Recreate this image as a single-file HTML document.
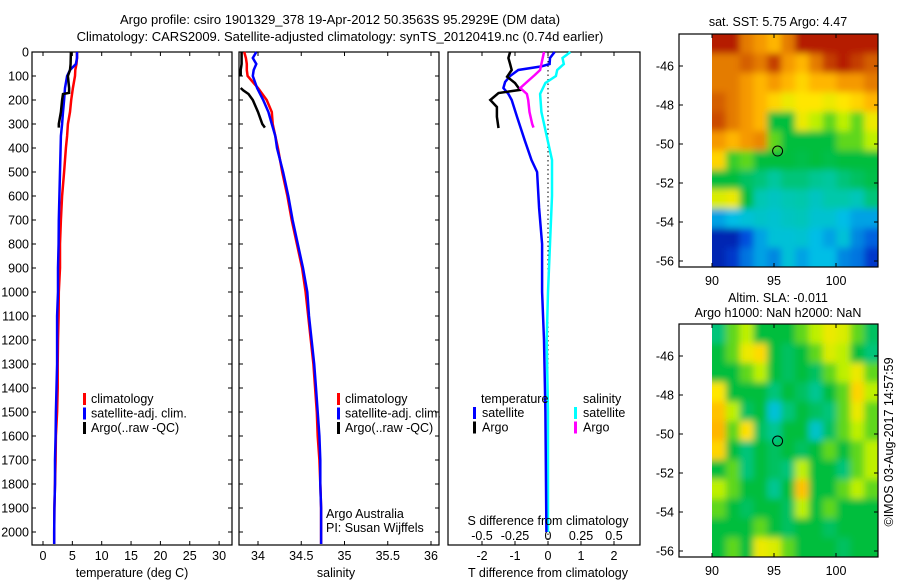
<!DOCTYPE html>
<html><head><meta charset="utf-8"><style>
body{margin:0;background:#fff;}
svg{display:block;font-family:"Liberation Sans",sans-serif;}
text{fill:#000;}
</style></head><body>
<svg id="fig" width="900" height="580" viewBox="0 0 900 580">
<defs>
<filter id="blur" filterUnits="userSpaceOnUse" x="650" y="0" width="250" height="580"><feGaussianBlur stdDeviation="3.5"/></filter>
<clipPath id="clip1"><rect x="712" y="34" width="166" height="233"/></clipPath>
<clipPath id="clip2"><rect x="712" y="324" width="166" height="233"/></clipPath>
</defs>
<text x="340" y="24" font-size="13" text-anchor="middle">Argo profile: csiro 1901329_378 19-Apr-2012 50.3563S 95.2929E (DM data)</text>
<text x="340" y="41" font-size="13" text-anchor="middle">Climatology: CARS2009. Satellite-adjusted climatology: synTS_20120419.nc (0.74d earlier)</text>
<g id="g"></g>
</svg>
<script>
// ---- depth grid (m) ----
const depths = [0,25,50,75,100,150,200,250,300,350,400,500,600,700,800,900,1000,1100,1200,1300,1400,1500,1600,1700,1800,1900,2000,2050];
// temperature (deg C)
const tempClim = [5.8,5.8,5.7,5.5,5.45,5.1,4.8,4.6,4.25,4.1,3.9,3.6,3.25,3.05,2.9,2.9,2.7,2.65,2.55,2.5,2.5,2.4,2.2,2.15,2.05,1.95,1.9,1.9];
const tempSat = [5.8,5.8,5.6,4.6,4.1,3.75,3.6,3.4,3.25,3.05,3.0,2.9,2.8,2.7,2.65,2.55,2.55,2.4,2.4,2.4,2.3,2.2,2.15,2.05,2.05,1.95,1.9,1.9];
const argoTDepths = [0,50,75,100,150,170,175,200,250,300,315];
const argoTemp = [4.75,4.7,4.6,4.25,4.45,4.45,3.4,3.25,3.05,2.7,2.7];
// salinity
const salClim = [33.84,33.86,33.87,33.87,33.88,34.0,34.10,34.16,34.17,34.20,34.23,34.28,34.34,34.39,34.45,34.51,34.55,34.58,34.61,34.64,34.66,34.68,34.69,34.71,34.72,34.73,34.73,34.73];
const salSat = [33.98,33.94,33.98,33.95,33.94,33.99,34.06,34.12,34.16,34.20,34.22,34.29,34.35,34.40,34.46,34.52,34.57,34.59,34.62,34.65,34.67,34.69,34.71,34.72,34.72,34.73,34.73,34.73];
const argoSDepths1 = [0,25,50,75,100];
const argoSal1 = [33.81,33.81,33.81,33.80,33.80];
const argoSDepths2 = [150,160,175,200,250,300,315];
const argoSal2 = [33.80,33.83,33.89,33.94,34.0,34.05,34.08];
// differences
const dTDepths = [0,25,50,60,75,100,125,150,175,200,270,370,450,500,650,800,1000,1200,1500,2000];
const dTSat = [0.2,0.06,0.05,-0.2,-0.9,-1.15,-1.3,-1.35,-1.2,-1.1,-0.94,-0.7,-0.5,-0.33,-0.27,-0.18,-0.18,-0.12,-0.08,-0.05];
const dSDepths = [0,25,50,75,100,129,175,250,350,450,600,800,1000,1200,1500,2000];
const dSSat = [0.17,0.11,0.12,0.07,0.06,-0.02,-0.06,-0.05,-0.01,0.03,0.03,0.015,0.0,-0.01,0.0,0.0];
const dTArgoDepths = [0,25,50,75,103,129,158,171,200,229,270,317];
const dTArgo = [-1.15,-1.2,-1.15,-1.1,-1.24,-1.0,-0.85,-1.5,-1.75,-1.55,-1.55,-1.5];
const dSArgoDepths = [0,25,50,75,96,125,150,175,200,250,300,315];
const dSArgo = [-0.03,-0.04,-0.05,-0.06,-0.1,-0.16,-0.21,-0.16,-0.15,-0.14,-0.12,-0.11];
// ticks
const depthTicks = [0,100,200,300,400,500,600,700,800,900,1000,1100,1200,1300,1400,1500,1600,1700,1800,1900,2000];
const tempTicks = [0,5,10,15,20,25,30];
const salTicks = [34,34.5,35,35.5,36];
const dTTicks = [-2,-1,0,1,2];
const dSTicks = [-0.5,-0.25,0,0.25,0.5];
const latTicks = [-46,-48,-50,-52,-54,-56];
const lonTicks = [90,95,100];
// maps (colormap index 0..1), rows north->south, cols west->east
const sstGrid = [
[0.95,0.95,0.8,0.75,0.7,0.8,0.95,0.95,0.95,0.95,0.95,0.95],
[0.8,0.8,0.85,0.8,0.9,0.75,0.7,0.8,0.9,0.95,0.9,0.85],
[0.8,0.8,0.75,0.7,0.75,0.7,0.65,0.7,0.7,0.75,0.75,0.8],
[0.85,0.8,0.75,0.7,0.65,0.6,0.62,0.62,0.6,0.62,0.65,0.7],
[0.88,0.8,0.75,0.7,0.45,0.45,0.6,0.55,0.5,0.55,0.5,0.6],
[0.75,0.7,0.75,0.78,0.5,0.45,0.45,0.45,0.45,0.5,0.5,0.55],
[0.65,0.48,0.5,0.45,0.45,0.45,0.44,0.45,0.44,0.45,0.45,0.45],
[0.45,0.45,0.42,0.4,0.37,0.4,0.4,0.38,0.37,0.4,0.42,0.44],
[0.58,0.6,0.45,0.35,0.33,0.35,0.36,0.33,0.36,0.36,0.34,0.4],
[0.25,0.28,0.3,0.32,0.31,0.33,0.34,0.31,0.31,0.28,0.25,0.25],
[0.08,0.08,0.16,0.25,0.3,0.3,0.31,0.28,0.25,0.3,0.22,0.18],
[0.08,0.12,0.2,0.25,0.22,0.3,0.25,0.28,0.28,0.22,0.2,0.12]];
const slaGrid = [
[0.4,0.5,0.55,0.45,0.45,0.45,0.5,0.55,0.6,0.58,0.5,0.42],
[0.45,0.5,0.6,0.64,0.45,0.42,0.45,0.5,0.58,0.55,0.45,0.4],
[0.45,0.45,0.5,0.55,0.45,0.42,0.45,0.42,0.5,0.55,0.6,0.5],
[0.62,0.45,0.45,0.45,0.4,0.45,0.42,0.38,0.45,0.5,0.65,0.55],
[0.68,0.55,0.42,0.45,0.3,0.4,0.45,0.42,0.4,0.5,0.6,0.5],
[0.7,0.5,0.63,0.42,0.38,0.45,0.45,0.32,0.42,0.5,0.55,0.5],
[0.65,0.45,0.4,0.45,0.42,0.45,0.42,0.45,0.5,0.45,0.5,0.55],
[0.45,0.5,0.4,0.45,0.42,0.4,0.55,0.45,0.45,0.4,0.5,0.55],
[0.55,0.5,0.45,0.45,0.38,0.45,0.68,0.45,0.45,0.5,0.55,0.5],
[0.5,0.45,0.42,0.45,0.45,0.42,0.55,0.45,0.5,0.45,0.45,0.45],
[0.45,0.45,0.45,0.5,0.45,0.42,0.45,0.45,0.42,0.45,0.45,0.45],
[0.45,0.5,0.45,0.6,0.58,0.5,0.45,0.45,0.45,0.42,0.45,0.45]];
const argoLon = 95.29, argoLat = -50.36;

const NS='http://www.w3.org/2000/svg';
const root=document.getElementById('g');
function el(tag,attrs,parent){const e=document.createElementNS(NS,tag);for(const k in attrs)e.setAttribute(k,attrs[k]);(parent||root).appendChild(e);return e;}
function txt(x,y,s,size,anchor,parent){const t=el('text',{x:x,y:y,'font-size':size,'text-anchor':anchor||'middle'},parent);t.textContent=s;return t;}

const TOP=52,BOT=545;
const yD=d=>TOP+d*0.24;
const xT=v=>43+5.87*v;
const xS=v=>258+86.5*(v-34);
const xdT=v=>548+33*v;
const xdS=v=>548+132*v;

function line(xs,ds,sx,color,w,name,parent){
  const pts=xs.map((v,i)=>sx(v).toFixed(1)+','+yD(ds[i]).toFixed(1)).join(' ');
  const p=el('polyline',{points:pts,fill:'none',stroke:color,'stroke-width':w,'stroke-linejoin':'miter'},parent);
  
  
  return p;
}
function panel(x0,x1,name){
  const g=el('g',{});
  
  
  el('rect',{x:x0,y:TOP,width:x1-x0,height:BOT-TOP,fill:'none',stroke:'#000','stroke-width':1.2},g);
  return g;
}

// Panel 1
const p1=panel(32,232,'temperature-panel');
depthTicks.forEach(d=>{
  el('line',{x1:32,x2:36,y1:yD(d),y2:yD(d),stroke:'#000'},p1);
  el('line',{x1:228,x2:232,y1:yD(d),y2:yD(d),stroke:'#000'},p1);
  const t=txt(29,yD(d)+4.5,String(d),12.5,'end',p1);
  
  
});
tempTicks.forEach(v=>{
  el('line',{x1:xT(v),x2:xT(v),y1:TOP,y2:TOP+4,stroke:'#000'},p1);
  el('line',{x1:xT(v),x2:xT(v),y1:BOT-4,y2:BOT,stroke:'#000'},p1);
  const t=txt(xT(v),560,String(v),12.5,'middle',p1);
  
  
});
line(tempClim,depths,xT,'#f00',2.5,'temp-climatology-line',p1);
line(tempSat,depths,xT,'#00f',2.5,'temp-satellite-line',p1);
line(argoTemp,argoTDepths,xT,'#000',2.5,'temp-argo-line',p1);
txt(132,577,'temperature (deg C)',12.5,'middle',p1);

function legend(x,y,items,parent,name){
  const g=el('g',{},parent);
  
  
  items.forEach((it,i)=>{
    el('rect',{x:x,y:y+i*14.5-10,width:3,height:12,fill:it[0]},g);
    txt(x+8,y+i*14.5,it[1],12.5,'start',g);
  });
}
const legItems=[['#f00','climatology'],['#00f','satellite-adj. clim.'],['#000','Argo(..raw -QC)']];
legend(83,403,legItems,p1,'temperature-legend');

// Panel 2
const p2=panel(239,439,'salinity-panel');
depthTicks.forEach(d=>{
  el('line',{x1:239,x2:243,y1:yD(d),y2:yD(d),stroke:'#000'},p2);
  el('line',{x1:435,x2:439,y1:yD(d),y2:yD(d),stroke:'#000'},p2);
});
salTicks.forEach(v=>{
  el('line',{x1:xS(v),x2:xS(v),y1:TOP,y2:TOP+4,stroke:'#000'},p2);
  el('line',{x1:xS(v),x2:xS(v),y1:BOT-4,y2:BOT,stroke:'#000'},p2);
  const t=txt(xS(v),560,String(v),12.5,'middle',p2);
  
  
});
line(salClim,depths,xS,'#f00',2.5,'sal-climatology-line',p2);
line(salSat,depths,xS,'#00f',2.5,'sal-satellite-line',p2);
line(argoSal1,argoSDepths1,xS,'#000',2.5,'sal-argo-line-upper',p2);
line(argoSal2,argoSDepths2,xS,'#000',2.5,'sal-argo-line-lower',p2);
txt(336,577,'salinity',12.5,'middle',p2);
legend(337,403,legItems,p2,'salinity-legend');
txt(326,518,'Argo Australia',12.5,'start',p2);
txt(326,532,'PI: Susan Wijffels',12.5,'start',p2);

// Panel 3
const p3=panel(448,640,'difference-panel');
el('line',{x1:548,x2:548,y1:TOP,y2:BOT,stroke:'#000','stroke-dasharray':'1.5,3','stroke-width':1},p3);
dTTicks.forEach(v=>{
  el('line',{x1:xdT(v),x2:xdT(v),y1:TOP,y2:TOP+4,stroke:'#000'},p3);
  const t=txt(xdT(v),560,String(v),12.5,'middle',p3);
  
  
});
dSTicks.forEach(v=>{
  el('line',{x1:xdS(v),x2:xdS(v),y1:BOT-4,y2:BOT,stroke:'#000'},p3);
  const t=txt(xdS(v),540,String(v),12.5,'middle',p3);
  
  
});
line(dSSat,dSDepths,xdS,'#0ff',2.5,'sal-diff-satellite-line',p3);
line(dTSat,dTDepths,xdT,'#00f',2.5,'temp-diff-satellite-line',p3);
line(dTArgo,dTArgoDepths,xdT,'#000',2.5,'temp-diff-argo-line',p3);
line(dSArgo,dSArgoDepths,xdS,'#f0f',2.5,'sal-diff-argo-line',p3);
txt(548,525,'S difference from climatology',12.5,'middle',p3);
txt(548,577,'T difference from climatology',12.5,'middle',p3);
const lg3=el('g',{},p3);


txt(481,403,'temperature',12.5,'start',lg3);
txt(583,403,'salinity',12.5,'start',lg3);
[['#00f','satellite',473],['#000','Argo',473],['#0ff','satellite',574],['#f0f','Argo',574]].forEach((it,i)=>{
  const yy=417+(i%2)*14.5;
  el('rect',{x:it[2],y:yy-10,width:3,height:12,fill:it[0]},lg3);
  txt(it[2]+9,yy,it[1],12.5,'start',lg3);
});

// Maps
const stops=[[0,[0,0,130]],[0.15,[0,70,220]],[0.28,[0,190,230]],[0.36,[0,200,170]],[0.45,[0,190,60]],[0.55,[190,240,0]],[0.62,[255,230,0]],[0.72,[255,170,0]],[0.84,[215,100,0]],[1,[165,0,0]]];
function cmap(v){
  for(let i=1;i<stops.length;i++){if(v<=stops[i][0]){const a=stops[i-1],b=stops[i];const t=(v-a[0])/(b[0]-a[0]);const c=a[1].map((x,k)=>Math.round(x+(b[1][k]-x)*t));return 'rgb('+c.join(',')+')';}}
  return 'rgb(165,0,0)';
}
function map(y0,grid,clip,name,y46){
  const g=el('g',{});
  
  
  const lonX=l=>712+(l-90)*12.4;
  const latY=l=>y46+(-46-l)*19.5;
  const inner=el('g',{'clip-path':'url(#'+clip+')'},g);
  const bg=el('g',{filter:'url(#blur)'},inner);
  const rows=grid.length, cols=grid[0].length, cw=166/cols, rh=233/rows;
  grid.forEach((row,r)=>row.forEach((v,c)=>{
    let x=712+c*cw,y=y0+r*rh,w=cw+0.6,h=rh+0.6;
    if(c===0){x-=12;w+=12;} if(c===cols-1){w+=12;}
    if(r===0){y-=12;h+=12;} if(r===rows-1){h+=12;}
    const cell=el('rect',{x:x,y:y,width:w,height:h,fill:cmap(v)},bg);
    
    
  }));
  el('rect',{x:679,y:y0,width:199,height:233,fill:'none',stroke:'#000','stroke-width':1.2},g);
  latTicks.forEach(l=>{
    el('line',{x1:679,x2:683,y1:latY(l),y2:latY(l),stroke:'#000'},g);
    el('line',{x1:874,x2:878,y1:latY(l),y2:latY(l),stroke:'#000'},g);
    const t=txt(674,latY(l)+4.5,String(l),12.5,'end',g);
    
    
  });
  lonTicks.forEach(l=>{
    el('line',{x1:lonX(l),x2:lonX(l),y1:y0,y2:y0+4,stroke:'#000'},g);
    el('line',{x1:lonX(l),x2:lonX(l),y1:y0+229,y2:y0+233,stroke:'#000'},g);
    const t=txt(lonX(l),y0+251,String(l),12.5,'middle',g);
    
    
  });
  const c=el('circle',{cx:lonX(argoLon),cy:latY(argoLat),r:5,fill:'none',stroke:'#000','stroke-width':1},g);
  
  
  return g;
}
map(34,sstGrid,'clip1','sst-map',66);
map(324,slaGrid,'clip2','sla-map',356);
txt(778,26,'sat. SST: 5.75 Argo: 4.47',12.5,'middle');
txt(778,302,'Altim. SLA: -0.011',12.5,'middle');
txt(778,317,'Argo h1000: NaN h2000: NaN',12.5,'middle');
const cr=txt(0,0,'©IMOS 03-Aug-2017 14:57:59',12.5,'middle');
cr.setAttribute('transform','translate(893,442) rotate(-90)');


</script>
</body></html>
